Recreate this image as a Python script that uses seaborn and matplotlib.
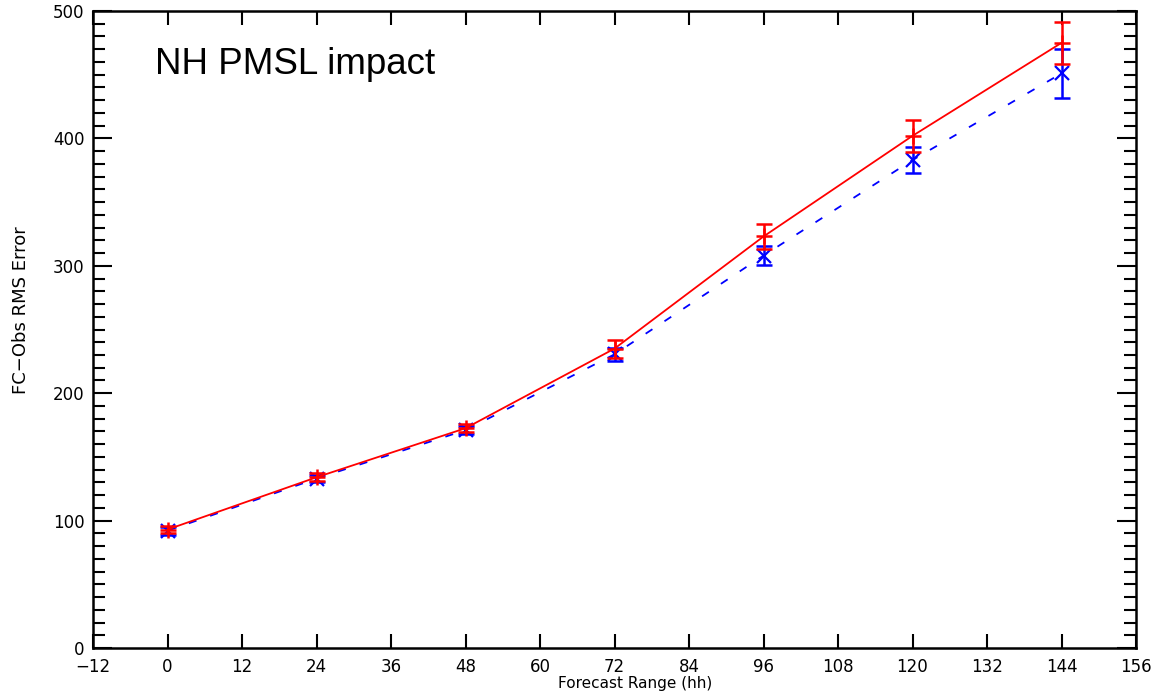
import numpy as np
import pandas as pd
import matplotlib
matplotlib.use("Agg")
import matplotlib.pyplot as plt
import seaborn as sns
from matplotlib.ticker import MultipleLocator

# forecast ranges (hh)
hours = [0, 24, 48, 72, 96, 120, 144]

# control (blue, dashed) and experiment (red, solid) RMS errors
rms_blue = [92, 133, 171, 230.5, 308, 383, 451]
err_blue = [3, 3, 3, 5, 7.5, 10, 19]
rms_red = [93, 134, 172.5, 235, 323, 402, 475]
err_red = [3, 3, 3, 7, 10, 12.5, 16.5]

x_ticks = list(range(-12, 157, 12))
y_ticks = [0, 100, 200, 300, 400, 500]

df = pd.DataFrame({"hh": hours, "blue": rms_blue, "red": rms_red})

sns.set_style("ticks")
plt.rcParams["font.family"] = ["DejaVu Sans"]
plt.rcParams["text.color"] = "black"
plt.rcParams["axes.labelcolor"] = "black"
plt.rcParams["xtick.color"] = "black"
plt.rcParams["ytick.color"] = "black"

fig = plt.figure(figsize=(11.54, 6.95), dpi=100)
ax = fig.add_axes([93 / 1154, 1 - 648 / 695, (1136 - 93) / 1154, (648 - 11) / 695])

sns.lineplot(data=df, x="hh", y="blue", ax=ax, color="#0000ff", lw=1.3,
             marker="x", markersize=10, markeredgewidth=1.6,
             markeredgecolor="#0000ff", linestyle=(0, (4.5, 8)))
ax.errorbar(df["hh"], df["blue"], yerr=err_blue, fmt="none", ecolor="#0000ff",
            elinewidth=1.8, capsize=6, capthick=1.8)

sns.lineplot(data=df, x="hh", y="red", ax=ax, color="#ff0000", lw=1.3,
             marker="+", markersize=11, markeredgewidth=1.8,
             markeredgecolor="#ff0000")
ax.errorbar(df["hh"], df["red"], yerr=err_red, fmt="none", ecolor="#ff0000",
            elinewidth=1.8, capsize=6, capthick=1.8)

ax.set_xlim(-12, 156)
ax.set_ylim(0, 500)
ax.set_xticks(x_ticks)
ax.set_xticklabels(["\u221212" if t == -12 else str(t) for t in x_ticks])
ax.set_yticks(y_ticks)
ax.yaxis.set_minor_locator(MultipleLocator(10))

ax.tick_params(axis="x", which="major", direction="in", length=10, width=1.5,
               top=True, bottom=True, labelsize=12, pad=7)
ax.tick_params(axis="y", which="major", direction="in", length=14, width=1.5,
               left=True, right=True, labelsize=12, pad=6)
ax.tick_params(axis="y", which="minor", direction="in", length=8.5, width=1.5,
               left=True, right=True)
for s in ax.spines.values():
    s.set_linewidth(1.8)
    s.set_color("black")

ax.set_xlabel("Forecast Range (hh)", fontsize=11)
ax.set_ylabel("FC\u2212Obs RMS Error", fontsize=13)
ax.xaxis.set_label_coords(0.52, -0.044)
ax.yaxis.set_label_coords(-0.06, 0.53)

fig.text(155 / 1154, 1 - 65 / 695, "NH PMSL impact", fontsize=26.5,
         family=["Liberation Sans", "DejaVu Sans"], va="center", ha="left",
         color="black")

fig.savefig("out.png", dpi=100)
